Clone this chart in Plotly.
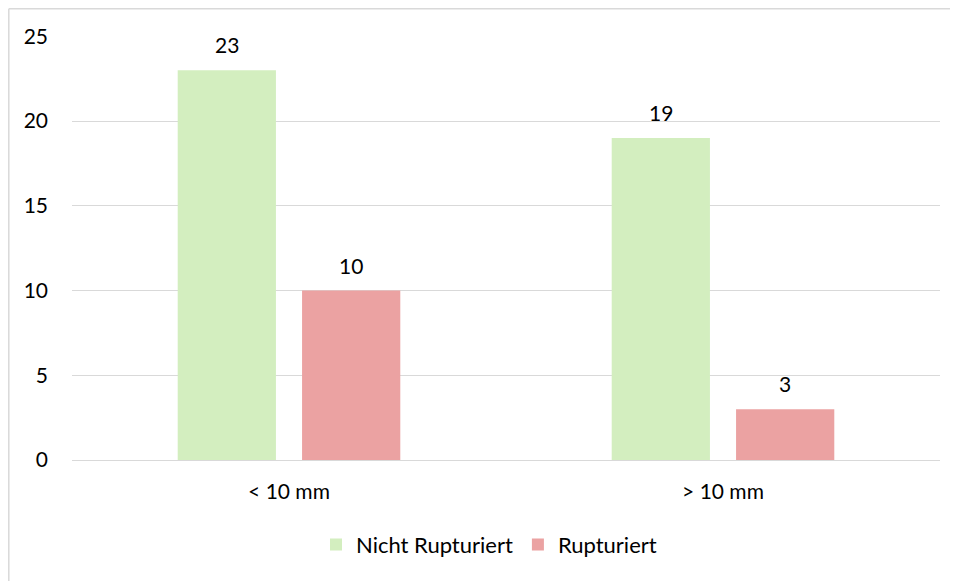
import plotly.graph_objects as go

categories = ["< 10 mm", "> 10 mm"]
series_names = ["Nicht Rupturiert", "Rupturiert"]
nicht_rupturiert = [23, 19]
rupturiert = [10, 3]
y_ticks = [0, 5, 10, 15, 20, 25]

colors = ["#d3eebf", "#eba2a2"]
values = [nicht_rupturiert, rupturiert]
FONT = "Lato, Open Sans, sans-serif"
FS = 21

fig = go.Figure()
for name, vals, col in zip(series_names, values, colors):
    fig.add_trace(go.Bar(x=categories, y=vals, name=name, marker_color=col,
                         marker_line_width=0, hoverinfo="x+y"))

# data labels
shifts = [-62, 62]
for vals, xs in zip(values, shifts):
    for c, v in zip(categories, vals):
        fig.add_annotation(x=c, y=v, text=str(v), showarrow=False, xref="x", yref="y",
                           xshift=xs, yshift=11, yanchor="bottom",
                           font=dict(family=FONT, size=FS, color="#000"))

# page has an 8px body margin, so coordinates are shifted by 8
OFF = 8
W, H = 950, 573
L, T = 72 - OFF, 36 - OFF
R = W - (940 - OFF)
B = H - (460 - OFF)
pw, ph = W - L - R, H - T - B
bx = (0.8 - L) / pw
by = (T + ph - 0.8) / ph
fig.add_shape(type="line", xref="paper", yref="paper", x0=bx, x1=1.2, y0=by, y1=by,
              line=dict(color="#d9d9d9", width=1.5))
fig.add_shape(type="line", xref="paper", yref="paper", x0=bx, x1=bx, y0=-0.4, y1=by,
              line=dict(color="#d9d9d9", width=1.5))

fig.update_layout(
    width=W, height=H,
    margin=dict(l=L, r=R, t=T, b=B),
    paper_bgcolor="white", plot_bgcolor="white",
    barmode="group", bargap=0.427, bargroupgap=0.21,
    font=dict(family=FONT, size=FS, color="#000"),
    showlegend=True,
    legend=dict(orientation="h", x=(489 - 72) / pw, xanchor="center", y=-0.2, yanchor="middle",
                font=dict(family=FONT, size=22, color="#000"), itemclick=False),
    xaxis=dict(showgrid=False, showline=False, ticks="", ticklabelstandoff=17,
               tickfont=dict(family=FONT, size=FS)),
    yaxis=dict(range=[0, 25.02], tickvals=y_ticks, showgrid=True, gridcolor="#d9d9d9",
               gridwidth=1, zeroline=True, zerolinecolor="#d9d9d9", zerolinewidth=1,
               showline=False, ticks="", ticklabelstandoff=23,
               tickfont=dict(family=FONT, size=FS)),
)

fig.write_html("out.html")
